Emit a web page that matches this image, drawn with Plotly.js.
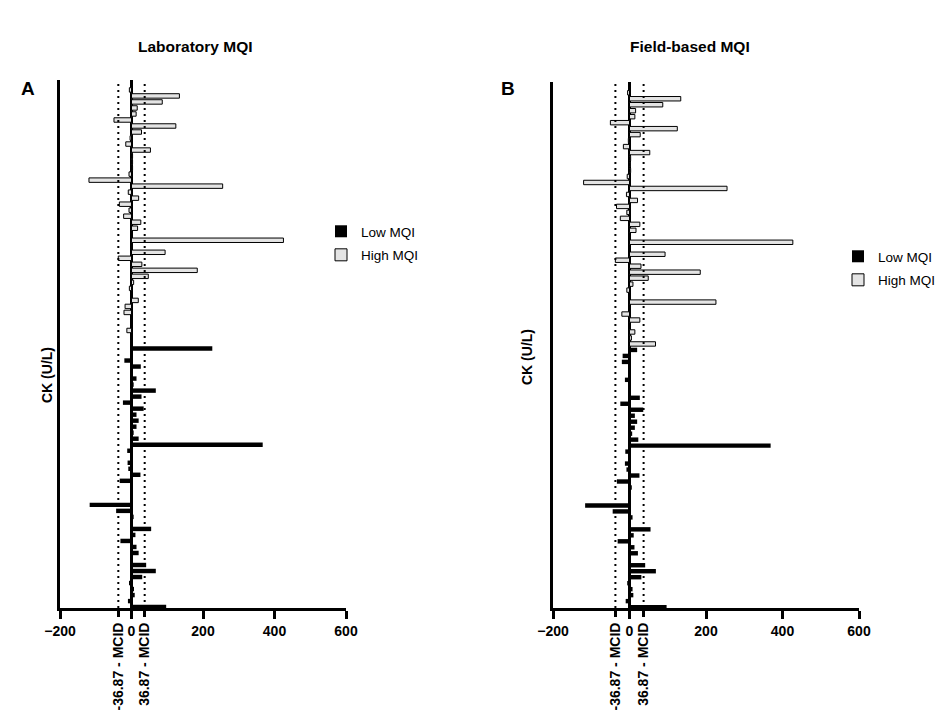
<!DOCTYPE html>
<html><head><meta charset="utf-8">
<script src="https://cdn.plot.ly/plotly-3.0.1.min.js"></script>
<style>html,body{margin:0;padding:0;background:#fff}#chart{width:945px;height:713px}</style>
</head><body><div id="chart"></div>
<script>
// CK (U/L) change per participant, top (index 0) to bottom (index 86)
const labHighMQI = [-6, 134, 86, 16, 13, -49, 124, 28, -4, -16, 53, 3, 3, 3, -7, -119, 255, -9, 20, -34, -7, -22, 26, 17, 0, 425, 0, 94, -37, 29, 184, 47, 6, -6, 0, 19, -18, -21, 0, 0, -13, 0, 0];
const labLowMQI = [226, 0, -20, 26, 0, 14, 6, 68, 28, -24, 34, 14, 20, 14, 6, 20, 367, -12, 0, -11, -9, 25, -33, 4, 0, 0, -117, -43, 6, 0, 55, 11, -31, 14, 20, 0, 41, 68, 30, -7, 7, 9, -10, 97];
const fieldHighMQI = [-5, 134, 87, 16, 14, -50, 125, 28, -3, -16, 53, 3, 2, 3, -6, -120, 255, -8, 21, -34, -7, -24, 27, 17, 0, 427, 0, 93, -37, 30, 185, 49, 9, -7, 0, 226, 0, -20, 27, 0, 14, 5, 68];
const fieldLowMQI = [20, -18, -20, 0, 0, -12, 0, 0, 27, -24, 36, 14, 20, 14, 7, 23, 369, -11, 0, -12, -8, 26, -33, 6, 0, 0, -116, -44, 8, 0, 55, 11, -31, 13, 22, 0, 41, 69, 31, -6, 8, 10, -10, 97];

const xTickValues = [-200, 0, 200, 400, 600];
const mcidValues = [-36.87, 36.87];
const mcidLabels = ['-36.87 - MCID', '36.87 - MCID'];
const panelTitles = ['Laboratory MQI', 'Field-based MQI'];
const panelLetters = ['A', 'B'];
const seriesNames = ['Low MQI', 'High MQI'];
const yTitle = 'CK (U/L)';

function positions(start, n) { return Array.from({length: n}, (_, i) => start + i); }

const FONT = 'Arial, "Liberation Sans", Helvetica, sans-serif';
const lowStyle = {color: '#000000', line: {color: '#000000', width: 0}};
const highStyle = {color: '#e4e4e4', line: {color: '#000000', width: 1}};

function panelTraces(low, high, xa, ya, legend, tag) {
  return [
    {type: 'bar', orientation: 'h', name: seriesNames[0], x: low, y: positions(high.length, low.length),
     xaxis: xa, yaxis: ya, legend: legend, legendgroup: tag + 'low', marker: lowStyle, width: 0.74, hoverinfo: 'x'},
    {type: 'bar', orientation: 'h', name: seriesNames[1], x: high, y: positions(0, high.length),
     xaxis: xa, yaxis: ya, legend: legend, legendgroup: tag + 'high', marker: highStyle, width: 0.74, hoverinfo: 'x'}
  ];
}

const data = [
  ...panelTraces(labLowMQI, labHighMQI, 'x', 'y', 'legend', 'a'),
  ...panelTraces(fieldLowMQI, fieldHighMQI, 'x2', 'y2', 'legend2', 'b'),
  {type: 'scatter', x: [], y: [], xaxis: 'x3', yaxis: 'y', showlegend: false, hoverinfo: 'skip'},
  {type: 'scatter', x: [], y: [], xaxis: 'x4', yaxis: 'y2', showlegend: false, hoverinfo: 'skip'}
];

const W = 945, H = 713;
const px = v => v / W, py = v => 1 - v / H;

function xAxis(domain, anchor) {
  return {domain: domain, anchor: anchor, range: [-200, 600], tickmode: 'array', tickvals: xTickValues,
    ticks: 'outside', ticklen: 8, tickwidth: 3, tickcolor: '#000', showline: true, linewidth: 3, linecolor: '#000',
    showgrid: false, zeroline: true, zerolinecolor: '#000', zerolinewidth: 2.5,
    tickfont: {family: FONT, size: 14, color: '#000', weight: 'bold'}, fixedrange: true};
}
function mcidAxis(over, anchor) {
  return {overlaying: over, anchor: anchor, side: 'bottom', range: [-200, 600], tickmode: 'array',
    tickvals: mcidValues, ticktext: mcidLabels, tickangle: -90, ticks: 'outside', ticklen: 8, tickwidth: 3,
    tickcolor: '#000', showline: false, showgrid: false, zeroline: false,
    tickfont: {family: FONT, size: 14, color: '#000', weight: 'bold'}, fixedrange: true};
}
function yAxis(domain, anchor, range) {
  return {domain: domain, anchor: anchor, range: range, showticklabels: false, ticks: '', showgrid: false,
    zeroline: false, showline: true, linewidth: 3, linecolor: '#000', fixedrange: true};
}

const shapes = [];
[['x', 'y domain'], ['x2', 'y2 domain']].forEach(([xr, yr]) => {
  mcidValues.forEach(v => shapes.push({type: 'line', xref: xr, yref: yr, x0: v, x1: v, y0: 0, y1: 1,
    line: {color: '#000', width: 2, dash: '2px,4px'}}));
});

function note(text, x, y, size, angle) {
  return {text: text, x: px(x), y: py(y), xref: 'paper', yref: 'paper', xanchor: 'center', yanchor: 'middle',
    showarrow: false, textangle: angle || 0, font: {family: FONT, size: size, color: '#000', weight: 'bold'}};
}

const annotations = [
  note(panelTitles[0], 195, 47, 15.5),
  note(panelTitles[1], 690, 47, 15.5),
  note(panelLetters[0], 28, 88, 19),
  note(panelLetters[1], 508, 88, 19),
  note(yTitle, 47, 375, 14, -90),
  note(yTitle, 527, 357, 14, -90)
];

const legendBase = {xanchor: 'left', yanchor: 'top', bgcolor: 'rgba(0,0,0,0)', borderwidth: 0, tracegroupgap: 3,
  font: {family: FONT, size: 13.5, color: '#000'}, traceorder: 'grouped', itemclick: false, itemdoubleclick: false};

const layout = {
  width: W, height: H, margin: {l: 0, r: 0, t: 0, b: 0}, paper_bgcolor: '#fff', plot_bgcolor: '#fff',
  barmode: 'overlay', showlegend: true, font: {family: FONT, color: '#000'},
  xaxis: xAxis([px(60), px(346)], 'y'),
  yaxis: yAxis([py(608), py(80)], 'x', [86.15, -1.65]),
  xaxis2: xAxis([px(553), px(859)], 'y2'),
  yaxis2: yAxis([py(608), py(82)], 'x2', [86.15, -1.8]),
  xaxis3: mcidAxis('x', 'y'),
  xaxis4: mcidAxis('x2', 'y2'),
  legend: Object.assign({x: px(321), y: py(216)}, legendBase),
  legend2: Object.assign({x: px(838), y: py(241)}, legendBase),
  shapes: shapes, annotations: annotations
};

Plotly.newPlot('chart', data, layout, {staticPlot: true, displayModeBar: false});
</script></body></html>
